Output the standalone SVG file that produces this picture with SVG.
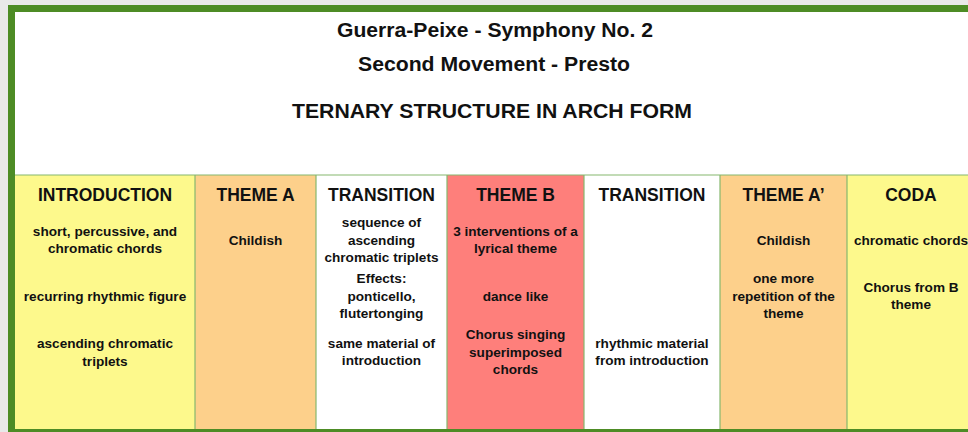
<svg xmlns="http://www.w3.org/2000/svg" width="968" height="432" viewBox="0 0 968 432">
<style>
text{font-family:"Liberation Sans",Arial,Helvetica,sans-serif;font-weight:bold;fill:#111;text-anchor:middle}
.t{font-size:19.5px}
.h{font-size:17.5px}
.b{font-size:13.6px}
.sep{stroke:#86b86e;stroke-width:1.2}
</style>
<rect x="0" y="0" width="968" height="432" fill="#e9e9e9"/>
<rect x="8" y="5" width="970" height="430" fill="#4d8c25"/>
<rect x="15" y="12" width="960" height="417" fill="#ffffff"/>
<g id="title">
<text class="t" x="495" y="37" textLength="316" lengthAdjust="spacingAndGlyphs">Guerra-Peixe - Symphony No. 2</text>
<text class="t" x="494" y="71" textLength="272" lengthAdjust="spacingAndGlyphs">Second Movement - Presto</text>
<text class="t" x="492" y="118" textLength="400" lengthAdjust="spacingAndGlyphs">TERNARY STRUCTURE IN ARCH FORM</text>
</g>
<g id="intro">
<rect x="15" y="175" width="180" height="254" fill="#fdf98c"/>
<text class="h" x="105" y="201">INTRODUCTION</text>
<text class="b" x="105" y="236">short, percussive, and</text>
<text class="b" x="105" y="253">chromatic chords</text>
<text class="b" x="105" y="301">recurring rhythmic figure</text>
<text class="b" x="105" y="348">ascending chromatic</text>
<text class="b" x="105" y="366">triplets</text>
</g>
<g id="themeA">
<rect x="195" y="175" width="121" height="254" fill="#fdd08b"/>
<text class="h" x="255.5" y="201">THEME A</text>
<text class="b" x="255.5" y="245">Childish</text>
</g>
<g id="transition1">
<rect x="316" y="175" width="131" height="254" fill="#ffffff"/>
<text class="h" x="381.5" y="201">TRANSITION</text>
<text class="b" x="381.5" y="227">sequence of</text>
<text class="b" x="381.5" y="245">ascending</text>
<text class="b" x="381.5" y="262">chromatic triplets</text>
<text class="b" x="381.5" y="283">Effects:</text>
<text class="b" x="381.5" y="301">ponticello,</text>
<text class="b" x="381.5" y="318">flutertonging</text>
<text class="b" x="381.5" y="348">same material of</text>
<text class="b" x="381.5" y="365">introduction</text>
</g>
<g id="themeB">
<rect x="447" y="175" width="137" height="254" fill="#fe7f7b"/>
<text class="h" x="515.5" y="201">THEME B</text>
<text class="b" x="515.5" y="236">3 interventions of a</text>
<text class="b" x="515.5" y="253">lyrical theme</text>
<text class="b" x="515.5" y="301">dance like</text>
<text class="b" x="515.5" y="339">Chorus singing</text>
<text class="b" x="515.5" y="357">superimposed</text>
<text class="b" x="515.5" y="374">chords</text>
</g>
<g id="transition2">
<rect x="584" y="175" width="136" height="254" fill="#ffffff"/>
<text class="h" x="652" y="201">TRANSITION</text>
<text class="b" x="652" y="348">rhythmic material</text>
<text class="b" x="652" y="365">from introduction</text>
</g>
<g id="themeA2">
<rect x="720" y="175" width="127" height="254" fill="#fdd08b"/>
<text class="h" x="783.5" y="201">THEME A’</text>
<text class="b" x="783.5" y="245">Childish</text>
<text class="b" x="783.5" y="283">one more</text>
<text class="b" x="783.5" y="301">repetition of the</text>
<text class="b" x="783.5" y="318">theme</text>
</g>
<g id="coda">
<rect x="847" y="175" width="128" height="254" fill="#fdf98c"/>
<text class="h" x="911" y="201">CODA</text>
<text class="b" x="911" y="245">chromatic chords</text>
<text class="b" x="911" y="292">Chorus from B</text>
<text class="b" x="911" y="309">theme</text>
</g>
<g id="connectors">
<line class="sep" x1="15" y1="175" x2="968" y2="175"/>
<line class="sep" x1="195" y1="175" x2="195" y2="429"/>
<line class="sep" x1="316" y1="175" x2="316" y2="429"/>
<line class="sep" x1="447" y1="175" x2="447" y2="429"/>
<line class="sep" x1="584" y1="175" x2="584" y2="429"/>
<line class="sep" x1="720" y1="175" x2="720" y2="429"/>
<line class="sep" x1="847" y1="175" x2="847" y2="429"/>
</g>
</svg>
